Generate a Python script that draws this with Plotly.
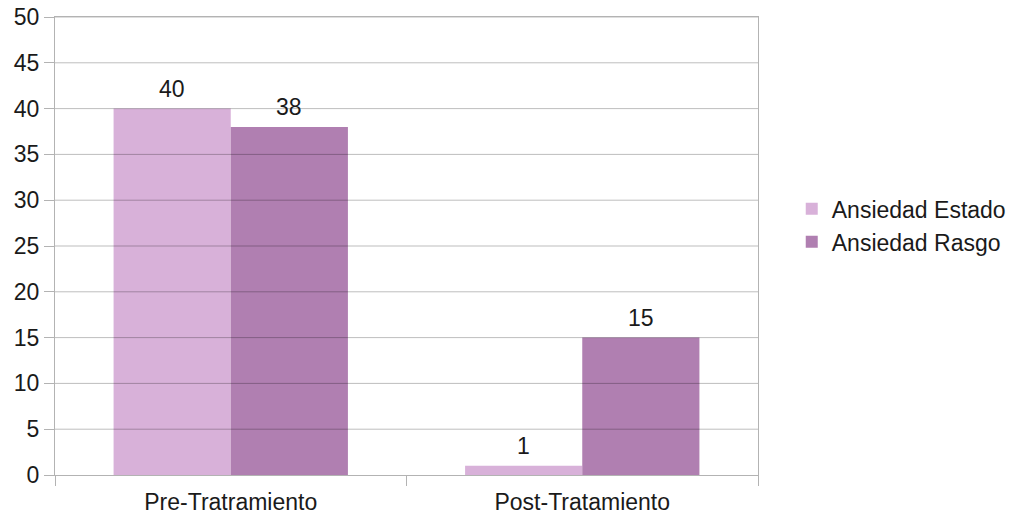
import plotly.graph_objects as go

categories = ["Pre-Tratramiento", "Post-Tratamiento"]
series_names = ["Ansiedad Estado", "Ansiedad Rasgo"]
estado = [40, 1]
rasgo = [38, 15]
y_ticks = [0, 5, 10, 15, 20, 25, 30, 35, 40, 45, 50]

colors = ["#d8b1d9", "#b07fb1"]
font_family = "Liberation Sans, Arial, sans-serif"
font_size = 23
text_color = "#1a1a1a"
axis_gray = "#b3b3b3"

W, H = 1010, 520
margin = dict(l=55, r=252, t=17, b=45, autoexpand=False)
bargap = 1 / 3

fig = go.Figure()
for name, vals, col in zip(series_names, [estado, rasgo], colors):
    fig.add_trace(go.Bar(
        name=name, x=categories, y=vals,
        marker=dict(color=col, line=dict(width=0)),
    ))

# value labels centred over each bar
plot_w = W - margin["l"] - margin["r"]
bar_px = plot_w / len(categories) * (1 - bargap) / len(series_names)
for i, vals in enumerate([estado, rasgo]):
    shift = (i - (len(series_names) - 1) / 2) * bar_px
    for cat, v in zip(categories, vals):
        fig.add_annotation(
            x=cat, y=v, xref="x", yref="y", text=str(v),
            showarrow=False, xshift=shift, yshift=5, yanchor="bottom",
            font=dict(family=font_family, size=font_size, color=text_color),
        )

# horizontal grid drawn on top of the bars
for t in y_ticks[1:]:
    fig.add_shape(
        type="line", xref="paper", yref="y", x0=0, x1=1, y0=t, y1=t,
        line=dict(color="rgba(0,0,0,0.26)", width=1), layer="above",
    )

fig.update_layout(
    width=W, height=H, margin=margin,
    paper_bgcolor="white", plot_bgcolor="white",
    barmode="group", bargap=bargap, bargroupgap=0,
    font=dict(family=font_family, size=font_size, color=text_color),
    showlegend=True,
    legend=dict(x=1.048, y=0.545, xanchor="left", yanchor="middle",
                font=dict(size=font_size), bgcolor="rgba(0,0,0,0)"),
    xaxis=dict(
        showgrid=False, showline=True, linecolor=axis_gray, linewidth=1,
        mirror=True, ticks="outside", ticklen=10, tickcolor=axis_gray,
        tickson="boundaries", tickfont=dict(size=font_size),
        ticklabelstandoff=6,
    ),
    yaxis=dict(
        range=[0, 50], tickvals=y_ticks, showgrid=False, zeroline=False,
        showline=True, linecolor=axis_gray, linewidth=1, mirror=True,
        ticks="outside", ticklen=10, tickcolor=axis_gray,
        tickfont=dict(size=font_size),
    ),
)

fig.write_html("out.html")
